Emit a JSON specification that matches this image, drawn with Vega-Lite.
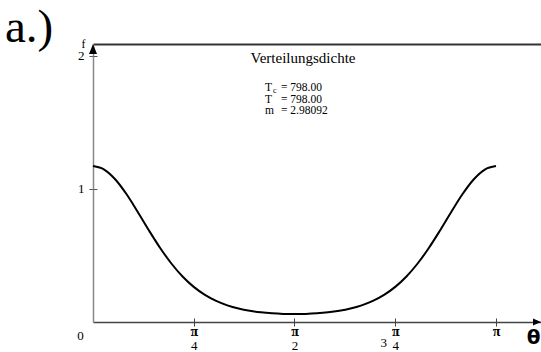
{
  "$schema": "https://vega.github.io/schema/vega-lite/v6.json",
  "width": 448,
  "height": 278,
  "autosize": "none",
  "padding": {"left": 93, "top": 44, "right": 0, "bottom": 30},
  "background": "white",
  "config": {
    "view": {"stroke": null},
    "font": "Liberation Serif",
    "axis": {"grid": false, "labelFont": "Liberation Serif", "titleFont": "Liberation Serif"}
  },
  "data": {
    "values": [
      {"theta": 0.0, "f": 1.1725},
      {"theta": 0.0873, "f": 1.1463},
      {"theta": 0.1745, "f": 1.0716},
      {"theta": 0.2618, "f": 0.9603},
      {"theta": 0.3491, "f": 0.8273},
      {"theta": 0.4363, "f": 0.6885},
      {"theta": 0.5236, "f": 0.5566},
      {"theta": 0.6109, "f": 0.4398},
      {"theta": 0.6981, "f": 0.3422},
      {"theta": 0.7854, "f": 0.2641},
      {"theta": 0.8727, "f": 0.2039},
      {"theta": 0.9599, "f": 0.1586},
      {"theta": 1.0472, "f": 0.1254},
      {"theta": 1.1345, "f": 0.1013},
      {"theta": 1.2217, "f": 0.0843},
      {"theta": 1.309, "f": 0.0726},
      {"theta": 1.3963, "f": 0.0651},
      {"theta": 1.4835, "f": 0.0609},
      {"theta": 1.5708, "f": 0.0595},
      {"theta": 1.6581, "f": 0.0609},
      {"theta": 1.7453, "f": 0.0651},
      {"theta": 1.8326, "f": 0.0726},
      {"theta": 1.9199, "f": 0.0843},
      {"theta": 2.0071, "f": 0.1013},
      {"theta": 2.0944, "f": 0.1254},
      {"theta": 2.1817, "f": 0.1586},
      {"theta": 2.2689, "f": 0.2039},
      {"theta": 2.3562, "f": 0.2641},
      {"theta": 2.4435, "f": 0.3422},
      {"theta": 2.5307, "f": 0.4398},
      {"theta": 2.618, "f": 0.5566},
      {"theta": 2.7053, "f": 0.6885},
      {"theta": 2.7925, "f": 0.8273},
      {"theta": 2.8798, "f": 0.9603},
      {"theta": 2.9671, "f": 1.0716},
      {"theta": 3.0543, "f": 1.1463},
      {"theta": 3.1416, "f": 1.1725}
    ]
  },
  "resolve": {"axis": {"x": "independent", "y": "independent"}},
  "layer": [
    {
      "mark": {"type": "line", "color": "black", "strokeWidth": 2, "interpolate": "monotone", "clip": false},
      "encoding": {
        "x": {
          "field": "theta",
          "type": "quantitative",
          "scale": {"domain": [0, 3.4924], "nice": false, "zero": false},
          "axis": {
            "orient": "bottom",
            "values": [0, 0.7854, 1.5708, 2.3562, 3.1416],
            "labelExpr": "datum.value == 0 ? '0' : '\u03c0'",
            "labelFontWeight": {"condition": {"test": "datum.value == 0", "value": "normal"}, "value": "bold"},
            "labelFontSize": {"condition": {"test": "datum.value == 0", "value": 13}, "value": 14},
            "labelOffset": {"condition": {"test": "datum.value == 0", "value": -13}, "value": 0},
            "labelPadding": {"condition": {"test": "datum.value == 0", "value": 9}, "value": 5},
            "labelBaseline": "middle",
            "labelColor": "black",
            "labelFlush": false,
            "labelOverlap": false,
            "domainColor": "#444",
            "domainWidth": 1.5,
            "tickColor": "#444",
            "tickSize": 4,
            "tickWidth": 1,
            "tickOpacity": {"condition": {"test": "datum.value == 0", "value": 0}, "value": 1},
            "title": "\u03b8",
            "titleFont": "DejaVu Sans",
            "titleFontWeight": "bold",
            "titleFontSize": 20,
            "titleX": 440,
            "titleY": 15,
            "titleBaseline": "middle",
            "titleAlign": "center",
            "titleAngle": 0,
            "titleColor": "black"
          }
        },
        "y": {
          "field": "f",
          "type": "quantitative",
          "scale": {"domain": [0, 2.0902], "nice": false},
          "axis": {
            "orient": "left",
            "values": [1, 2],
            "labelFontSize": 13,
            "labelColor": "black",
            "labelPadding": 5,
            "labelBaseline": "middle",
            "tickSize": 4,
            "tickColor": "#555",
            "domainColor": "#888",
            "domainWidth": 1.5,
            "title": "f",
            "titleAngle": 0,
            "titleX": -10,
            "titleY": -1,
            "titleFontSize": 12,
            "titleFontWeight": "normal",
            "titleBaseline": "middle",
            "titleAlign": "center",
            "titleColor": "black"
          }
        }
      }
    },
    {
      "data": {"values": [{}]},
      "mark": {"type": "point", "shape": "M0,-1L0.8,1L-0.8,1Z", "filled": true, "color": "black", "size": 100, "opacity": 1, "clip": false},
      "encoding": {
        "x": {
          "datum": 0,
          "type": "quantitative",
          "axis": {"orient": "top", "labels": false, "ticks": false, "title": null, "domainColor": "#333", "domainWidth": 2}
        },
        "y": {
          "datum": 2.0526,
          "type": "quantitative",
          "axis": {"orient": "left", "values": [1, 2], "labels": false, "domain": false, "tickSize": -4, "tickColor": "#555", "title": null}
        }
      }
    },
    {
      "data": {"values": [{}]},
      "mark": {"type": "point", "shape": "M-1,-0.9L1,0L-1,0.9Z", "filled": true, "color": "black", "size": 64, "opacity": 1, "clip": false},
      "encoding": {
        "x": {
          "datum": 3.4612,
          "type": "quantitative",
          "axis": {
            "orient": "bottom",
            "values": [0.7854, 1.5708, 2.3562, 3.1416],
            "labelExpr": "datum.value < 1 ? ['\u2013', '4'] : datum.value < 2 ? ['\u2013', '2'] : datum.value < 3 ? ['\u2013', '4'] : ''",
            "labelLineHeight": 12,
            "domain": false,
            "tickSize": -4,
            "tickColor": "#444",
            "labelPadding": 15,
            "labelBaseline": "middle",
            "labelFontSize": 13,
            "labelColor": "black",
            "labelOverlap": false,
            "labelFlush": false,
            "title": null
          }
        },
        "y": {"datum": 0, "type": "quantitative", "axis": null}
      }
    },
    {
      "data": {"values": [{}]},
      "mark": {"type": "text", "text": "Verteilungsdichte", "font": "Liberation Serif", "fontSize": 15, "align": "center", "baseline": "middle", "color": "black"},
      "encoding": {
        "x": {
          "datum": 1.637,
          "type": "quantitative",
          "axis": {
            "orient": "bottom",
            "values": [2.3562],
            "labelExpr": "'3'",
            "domain": false,
            "ticks": false,
            "labelOffset": -12,
            "labelPadding": 20,
            "labelBaseline": "middle",
            "labelFontSize": 13,
            "labelColor": "black",
            "labelOverlap": false,
            "labelFlush": false,
            "title": null
          }
        },
        "y": {"datum": 1.985, "type": "quantitative", "axis": null}
      }
    },
    {
      "data": {"values": [{}]},
      "mark": {"type": "text", "text": "a.)", "font": "Liberation Serif", "fontSize": 47, "align": "left", "baseline": "alphabetic", "color": "black", "clip": false},
      "encoding": {
        "x": {"datum": -0.686, "type": "quantitative", "axis": null},
        "y": {"datum": 2.105, "type": "quantitative", "axis": null}
      }
    },
    {
      "data": {"values": [{}]},
      "mark": {"type": "text", "text": ["T", "T", "m"], "font": "Liberation Serif", "fontSize": 11.5, "lineHeight": 11.7, "align": "left", "baseline": "middle", "color": "black"},
      "encoding": {
        "x": {"datum": 1.3408, "type": "quantitative", "axis": null},
        "y": {"datum": 1.759, "type": "quantitative", "axis": null}
      }
    },
    {
      "data": {"values": [{}]},
      "mark": {"type": "text", "text": "c", "font": "Liberation Serif", "fontSize": 8, "align": "left", "baseline": "middle", "color": "black"},
      "encoding": {
        "x": {"datum": 1.403, "type": "quantitative", "axis": null},
        "y": {"datum": 1.737, "type": "quantitative", "axis": null}
      }
    },
    {
      "data": {"values": [{}]},
      "mark": {"type": "text", "text": ["= 798.00", "= 798.00", "= 2.98092"], "font": "Liberation Serif", "fontSize": 11.5, "lineHeight": 11.7, "align": "left", "baseline": "middle", "color": "black"},
      "encoding": {
        "x": {"datum": 1.4656, "type": "quantitative", "axis": null},
        "y": {"datum": 1.759, "type": "quantitative", "axis": null}
      }
    }
  ]
}
